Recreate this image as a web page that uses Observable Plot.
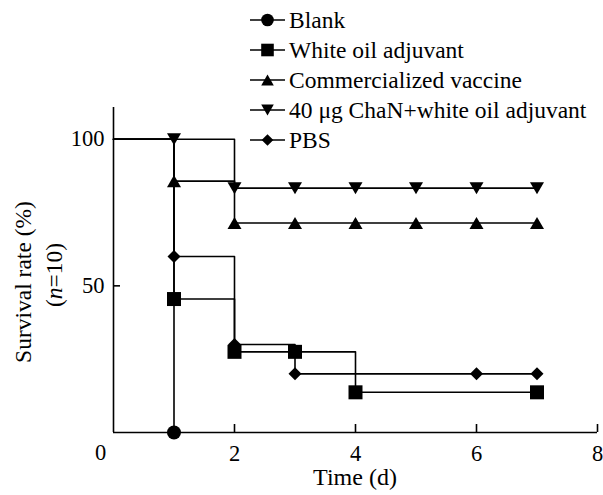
<!DOCTYPE html>
<html><head><meta charset="utf-8">
<script src="https://cdn.jsdelivr.net/npm/d3@7"></script>
<script src="https://cdn.jsdelivr.net/npm/@observablehq/plot@0.6"></script>
<style>body{margin:0;background:#fff}</style>
</head><body><div id="chart"></div>
<script>
// ---- data ----
const seriesNames = ["Blank", "White oil adjuvant", "Commercialized vaccine", "40 μg ChaN+white oil adjuvant", "PBS"];
const startDay = 0, startValue = 100;
const blankDays = [1];
const blankValues = [0];
const whiteOilDays = [1, 2, 3, 4, 7];
const whiteOilValues = [45.5, 27.5, 27.5, 13.7, 13.7];
const vaccineDays = [1, 2, 3, 4, 5, 6, 7];
const vaccineValues = [85.7, 71.4, 71.4, 71.4, 71.4, 71.4, 71.4];
const chanDays = [1, 2, 3, 4, 5, 6, 7];
const chanValues = [100, 83.3, 83.3, 83.3, 83.3, 83.3, 83.3];
const pbsDays = [1, 2, 3, 6, 7];
const pbsValues = [60, 30, 20, 20, 20];
const xTicks = [2, 4, 6, 8];
const yTicks = [50, 100];
const xLabel = "Time (d)";
const yLabelLine1 = "Survival rate (%)";

// ---- symbols ----
function sym(draw) { return {draw(c, size) { draw(c, Math.sqrt(size / Math.PI)); }}; }
const circleSym = sym((c, r) => { c.moveTo(r, 0); c.arc(0, 0, r, 0, 2 * Math.PI); c.closePath(); });
const squareSym = sym((c, r) => { c.rect(-r, -r, 2 * r, 2 * r); });
const triUpSym = sym((c, r) => { c.moveTo(0, -0.86 * r); c.lineTo(r, 0.86 * r); c.lineTo(-r, 0.86 * r); c.closePath(); });
const triDownSym = sym((c, r) => { c.moveTo(0, 0.86 * r); c.lineTo(r, -0.86 * r); c.lineTo(-r, -0.86 * r); c.closePath(); });
const diamondSym = sym((c, r) => { const d = 0.93 * r; c.moveTo(0, -d); c.lineTo(d, 0); c.lineTo(0, d); c.lineTo(-d, 0); c.closePath(); });

const series = [
  {name: seriesNames[0], days: blankDays, values: blankValues, symbol: circleSym},
  {name: seriesNames[1], days: whiteOilDays, values: whiteOilValues, symbol: squareSym},
  {name: seriesNames[2], days: vaccineDays, values: vaccineValues, symbol: triUpSym},
  {name: seriesNames[3], days: chanDays, values: chanValues, symbol: triDownSym},
  {name: seriesNames[4], days: pbsDays, values: pbsValues, symbol: diamondSym}
];
const ink = "#000";
const marks = [];
for (const s of series) {
  const pts = s.days.map((d, i) => ({day: d, value: s.values[i]}));
  const linePts = [{day: startDay, value: startValue}, ...pts];
  marks.push(Plot.line(linePts, {x: "day", y: "value", curve: "step-after", stroke: ink, strokeWidth: 1.6}));
}
for (const s of series) {
  const pts = s.days.map((d, i) => ({day: d, value: s.values[i]}));
  marks.push(Plot.dot(pts, {x: "day", y: "value", r: 7, symbol: s.symbol, fill: ink, stroke: "none"}));
}

const font = "'Liberation Serif', 'Times New Roman', serif";
const chart = Plot.plot({
  width: 603, height: 495,
  marginLeft: 113, marginRight: 6, marginTop: 107, marginBottom: 63,
  style: {fontFamily: font, fontSize: "22.5px", background: "white", color: ink},
  x: {domain: [0, 8]},
  y: {domain: [0, 110.8]},
  marks: [
    Plot.axisX({ticks: xTicks, tickSize: -8, tickPadding: 21, label: null, fontSize: 22.5, stroke: ink, strokeWidth: 1.6}),
    Plot.axisY({ticks: yTicks, tickSize: -7, tickPadding: 16, label: null, fontSize: 22.5, stroke: ink, strokeWidth: 1.6}),
    Plot.ruleY([0], {stroke: ink, strokeWidth: 1.6}),
    Plot.ruleX([0], {stroke: ink, strokeWidth: 1.6}),
    Plot.text([{x: 0, y: 0, t: "0"}], {x: "x", y: "y", text: "t", dx: -13, dy: 20, fontSize: 22.5, fill: ink}),
    ...marks
  ]
});
document.getElementById("chart").appendChild(chart);

// ---- titles and legend ----
const svg = d3.select(chart);
svg.append("text").attr("x", 355).attr("y", 477).attr("dy", "0.35em")
  .attr("text-anchor", "middle").attr("font-size", 24).attr("font-family", font).attr("fill", ink).text(xLabel);
const yl = svg.append("g").attr("font-size", 23.5).attr("font-family", font).attr("fill", ink).attr("text-anchor", "middle");
yl.append("text").attr("transform", "translate(23,282) rotate(-90)").attr("dy", "0.35em").text(yLabelLine1);
const t2 = yl.append("text").attr("transform", "translate(53.5,275) rotate(-90)").attr("dy", "0.35em");
t2.append("tspan").text("(");
t2.append("tspan").attr("font-style", "italic").text("n");
t2.append("tspan").text("=10)");

const legend = svg.append("g").attr("font-size", 23.5).attr("font-family", font).attr("fill", ink).attr("text-anchor", "start");
series.forEach((s, i) => {
  const y = 20 + i * 30;
  const g = legend.append("g").attr("transform", `translate(0,${y})`);
  g.append("line").attr("x1", 250).attr("x2", 285).attr("stroke", ink).attr("stroke-width", 1.6);
  g.append("path").attr("transform", "translate(267.5,0)")
    .attr("d", d3.symbol().type(s.symbol).size(Math.PI * 6.3 * 6.3)()).attr("fill", ink);
  g.append("text").attr("x", 289).attr("dy", "0.35em").attr("text-anchor", "start").text(s.name);
});
</script>
</body></html>
